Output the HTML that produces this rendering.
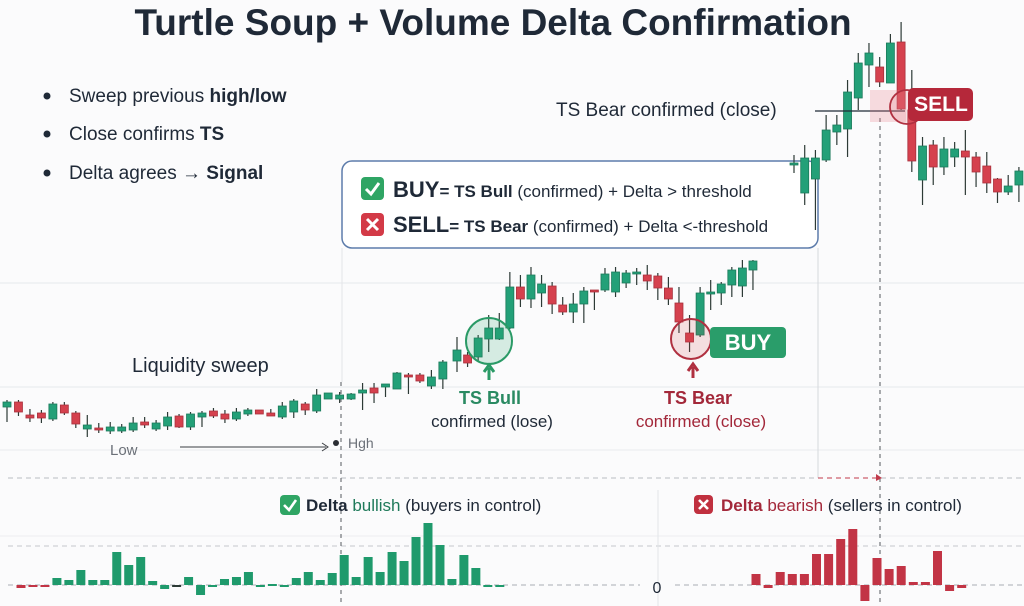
<!DOCTYPE html>
<html><head><meta charset="utf-8">
<style>
html,body{margin:0;padding:0;background:#fbfbfc;}
svg{display:block;font-family:"Liberation Sans",sans-serif;}
</style></head>
<body>
<svg id="chart" width="1024" height="606" viewBox="0 0 1024 606" xmlns="http://www.w3.org/2000/svg">
<rect x="0" y="0" width="1024" height="606" fill="#fbfbfc"/>
<g id="grid" stroke-width="1">
  <line x1="0" y1="283" x2="1024" y2="283" stroke="#e6e8ec"/>
  <line x1="0" y1="387" x2="1024" y2="387" stroke="#e6e8ec"/>
  <line x1="0" y1="450" x2="1024" y2="450" stroke="#e9ebee"/>
  <line x1="8" y1="478" x2="1024" y2="478" stroke="#b9bcc2" stroke-dasharray="5 4"/>
  <line x1="0" y1="536" x2="1024" y2="536" stroke="#eceef1"/>
  <line x1="8" y1="546" x2="1024" y2="546" stroke="#c4c7cc" stroke-dasharray="5 4"/>
  <line x1="8" y1="585" x2="640" y2="585" stroke="#a9adb3" stroke-dasharray="5 4"/>
  <line x1="675" y1="585" x2="1024" y2="585" stroke="#a9adb3" stroke-dasharray="5 4"/>
  <line x1="658" y1="490" x2="658" y2="606" stroke="#e3e5e9"/>
  <line x1="342" y1="248" x2="342" y2="382" stroke="#e3e5e9"/>
  <line x1="818" y1="248" x2="818" y2="478" stroke="#d5d8dd"/>
</g>
<g>
  <line x1="341" y1="382" x2="341" y2="606" stroke="#55585e" stroke-dasharray="4 4"/>
  <line x1="880" y1="118" x2="880" y2="606" stroke="#55585e" stroke-dasharray="4 4"/>
  <line x1="818" y1="478" x2="876" y2="478" stroke="#c0394a" stroke-dasharray="5 4"/>
  <path d="M876 474 L882 478 L876 481 Z" fill="#c0394a"/>
</g>

<text x="493" y="35" text-anchor="middle" font-size="37" font-weight="bold" fill="#1f2937">Turtle Soup + Volume Delta Confirmation</text>

<g font-size="19" fill="#1f2937">
  <circle cx="47" cy="96" r="3.5" fill="#1f2937"/><text x="69" y="102">Sweep previous <tspan font-weight="bold">high/low</tspan></text>
  <circle cx="47" cy="134" r="3.5" fill="#1f2937"/><text x="69" y="140">Close confirms <tspan font-weight="bold">TS</tspan></text>
  <circle cx="47" cy="173" r="3.5" fill="#1f2937"/><text x="69" y="179">Delta agrees → <tspan font-weight="bold">Signal</tspan></text>
</g>

<g>
  <rect x="342" y="161" width="476" height="87" rx="10" fill="#ffffff" stroke="#5d7cab" stroke-width="1.5"/>
  <rect x="361" y="177" width="23" height="23" rx="4" fill="#2fa564"/>
  <path d="M366 189 L371 194 L379 183" stroke="#fff" stroke-width="3" fill="none"/>
  <text x="393" y="197" font-size="22" fill="#1f2937"><tspan font-weight="bold">BUY</tspan><tspan font-size="17" font-weight="bold">= TS Bull </tspan><tspan font-size="17">(confirmed) + Delta &gt; threshold</tspan></text>
  <rect x="361" y="213" width="23" height="23" rx="4" fill="#d33a47"/>
  <path d="M367 219 L378 230 M378 219 L367 230" stroke="#fff" stroke-width="3"/>
  <text x="393" y="232" font-size="22" fill="#1f2937"><tspan font-weight="bold">SELL</tspan><tspan font-size="17" font-weight="bold">= TS Bear </tspan><tspan font-size="17">(confirmed) + Delta &lt;-threshold</tspan></text>
</g>

<g id="candles"></g>
<g id="deltas"></g>

<g>
  <text x="132" y="372" font-size="20" fill="#1f2937">Liquidity sweep</text>
  <text x="110" y="455" font-size="15" fill="#6b7078">Low</text>
  <line x1="180" y1="447" x2="326" y2="447" stroke="#3a3d42" stroke-width="1"/>
  <path d="M322 443 L328 447 L322 451" stroke="#3a3d42" fill="none"/>
  <circle cx="336" cy="443" r="3" fill="#2a2d33"/>
  <text x="348" y="448" font-size="14" fill="#6b7078">Hgh</text>

  <circle cx="489" cy="341" r="23" fill="rgba(47,165,110,0.18)" stroke="#2a9a66" stroke-width="2"/>
  <path d="M489 380 L489 368 M484 372 L489 365 L494 372" stroke="#2a9a66" stroke-width="3" fill="none"/>
  <text x="490" y="404" text-anchor="middle" font-size="18" font-weight="bold" fill="#2a8a62">TS Bull</text>
  <text x="492" y="427" text-anchor="middle" font-size="17" fill="#1f2937">confirmed (lose)</text>

  <circle cx="691" cy="339" r="20" fill="rgba(210,60,70,0.15)" stroke="#b03040" stroke-width="2"/>
  <path d="M693 378 L693 367 M688 371 L693 364 L698 371" stroke="#b03040" stroke-width="3" fill="none"/>
  <text x="698" y="404" text-anchor="middle" font-size="18" font-weight="bold" fill="#a3283a">TS Bear</text>
  <text x="701" y="427" text-anchor="middle" font-size="17" fill="#a3283a">confirmed (close)</text>

  <rect x="710" y="327" width="76" height="31" rx="4" fill="#2a9d6a"/>
  <text x="748" y="350" text-anchor="middle" font-size="22" font-weight="bold" fill="#fff">BUY</text>

  <text x="556" y="116" font-size="19" fill="#1f2937">TS Bear confirmed (close)</text>
  <line x1="815" y1="111" x2="905" y2="111" stroke="#1f2937" stroke-width="1.2"/>
  <rect x="870" y="90" width="36" height="32" fill="rgba(230,120,130,0.25)"/>
  <circle cx="907" cy="107" r="17" fill="rgba(230,120,130,0.2)" stroke="#b03040" stroke-width="1.8"/>
  <rect x="908" y="88" width="65" height="33" rx="5" fill="#b5283a"/>
  <text x="941" y="111" text-anchor="middle" font-size="21" font-weight="bold" fill="#fff">SELL</text>

  <rect x="280" y="495" width="20" height="20" rx="4" fill="#2fa564"/>
  <path d="M284 505 L289 510 L296 500" stroke="#fff" stroke-width="2.6" fill="none"/>
  <text x="306" y="511" font-size="17" fill="#1f2937"><tspan font-weight="bold">Delta</tspan> <tspan fill="#1f7a5a">bullish</tspan> (buyers in control)</text>
  <rect x="694" y="495" width="19" height="19" rx="4" fill="#c0303f"/>
  <path d="M699 500 L708 509 M708 500 L699 509" stroke="#fff" stroke-width="2.6"/>
  <text x="721" y="511" font-size="17" fill="#1f2937"><tspan font-weight="bold" fill="#a3283a">Delta</tspan> <tspan fill="#a3283a">bearish</tspan> (sellers in control)</text>
  <text x="657" y="593" text-anchor="middle" font-size="16" fill="#1f2937">0</text>
</g>
</svg>
<script>
// Candle data (price units); null = empty slot
const candleOpen  = [193,198,185,187,181,195,187,171,172,169,169,170,178,171,174,184,173,183,189,186,181,186,190,187,183,188,196,189,201,201,201,207,212,213,211,225,225,214,221,239,245,243,261,261,272,313,301,307,314,295,288,296,310,310,308,317,327,325,324,312,297,267,265,307,307,315,314,330,null,null,null,435,407,421,440,468,471,502,535,533,517,558,490,420,455,433,443,449,443,434,421,408,415];
const candleClose = [198,188,182,182,196,187,176,175,171,173,173,177,175,177,183,173,186,187,184,181,188,190,186,184,194,199,190,205,207,205,206,210,207,216,227,223,219,223,238,250,237,262,272,272,313,301,325,316,296,288,296,309,309,326,328,327,328,319,312,301,278,258,307,308,316,330,332,339,null,null,null,437,442,442,470,475,508,537,547,518,557,491,439,454,433,451,451,443,428,417,408,414,429];
const candleHigh  = [200,200,191,190,198,198,189,185,177,178,176,183,183,180,188,186,188,189,192,190,192,192,190,191,198,201,198,211,207,208,207,217,217,216,228,227,227,230,240,263,248,265,285,287,328,325,333,325,318,303,307,313,310,332,333,330,332,335,327,323,313,285,313,320,318,333,340,340,null,null,null,445,455,450,485,485,520,547,557,543,566,578,530,463,460,463,458,470,448,448,422,425,433];
const candleLow   = [178,184,178,177,179,185,172,163,167,166,167,168,172,169,170,172,170,173,182,177,179,184,186,184,181,182,185,187,201,197,200,190,197,203,211,206,217,211,211,228,233,238,248,260,271,293,292,293,286,285,277,277,290,308,303,312,315,310,300,295,267,248,263,290,295,303,303,310,null,null,null,427,395,370,438,455,443,490,513,513,517,490,428,395,415,425,433,405,413,407,397,405,398];
// Volume delta values, in bar order (first 41 = bullish section, last 18 = bearish section)
const deltaValue = [-3,-2,-2,7,5,15,5,5,33,20,28,4,-4,-1,8,-10,0,6,8,13,-1,1,-1,7,13,5,12,30,8,28,13,33,24,48,62,40,6,30,17,-1,-1,11,-3,13,11,11,31,31,46,56,-16,27,16,19,3,3,34,-6,-3];
const deltaLeftCount = 41;

const NS="http://www.w3.org/2000/svg";
// piecewise time axis (three sessions)
function xScale(i){
  if(i<39) return 7+i*11.47;
  if(i<71) return 457+(i-39)*10.57;
  return 794+(i-71)*10.71;
}
function dxScale(k){
  if(k<deltaLeftCount) return 21+k*11.97;
  return 756+(k-deltaLeftCount)*12.1;
}
function yScale(p){return 600-p;}
function dScale(v){return 585-v;}
const GREEN="#23a078", RED="#d5414e";

const cg=document.getElementById('candles');
for(let i=0;i<candleOpen.length;i++){
  if(candleOpen[i]===null) continue;
  const o=candleOpen[i],c=candleClose[i],h=candleHigh[i],l=candleLow[i];
  const col=c>=o?GREEN:RED;
  const x=xScale(i);
  const g=document.createElementNS(NS,'g');
  
  
  const w=document.createElementNS(NS,'line');
  w.setAttribute('x1',x);w.setAttribute('x2',x);
  w.setAttribute('y1',yScale(h));w.setAttribute('y2',yScale(l));
  w.setAttribute('stroke','#2d3a36');w.setAttribute('stroke-width','1.2');
  g.appendChild(w);
  const r=document.createElementNS(NS,'rect');
  const top=yScale(Math.max(o,c)), bh=Math.max(2,Math.abs(o-c));
  r.setAttribute('x',x-4);r.setAttribute('y',top);
  r.setAttribute('width',8);r.setAttribute('height',bh);
  r.setAttribute('fill',col);r.setAttribute('stroke',c>=o?'#1b7a5a':'#a8303c');r.setAttribute('stroke-width','0.8');
  g.appendChild(r);
  cg.appendChild(g);
}

const dg=document.getElementById('deltas');
for(let k=0;k<deltaValue.length;k++){
  const v=deltaValue[k];
  const x=dxScale(k);
  const col = (k<3||k>=deltaLeftCount)?"#c23445":(k===13?"#2b3a35":"#1f9a6c");
  const r=document.createElementNS(NS,'rect');
  
  
  const h=Math.max(2,Math.abs(v));
  r.setAttribute('x',x-4.5);
  r.setAttribute('y',v>=0?dScale(v):dScale(0));
  r.setAttribute('width',9);
  r.setAttribute('height',h);
  r.setAttribute('fill',col);
  dg.appendChild(r);
}
</script>
</body></html>
